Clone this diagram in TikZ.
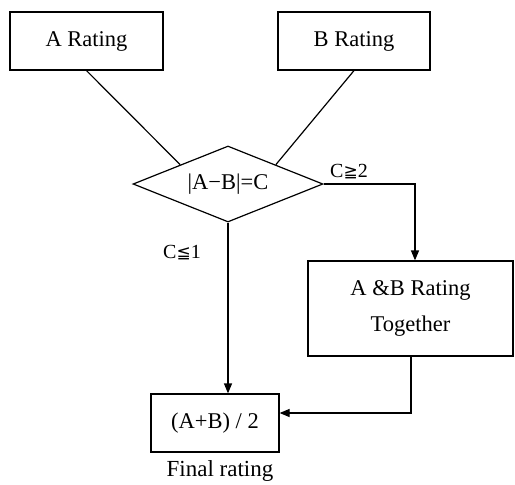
\documentclass[tikz,border=0pt]{standalone}
\usepackage{fontspec}
\setmainfont{Liberation Serif}
\newfontfamily\symfont{DejaVu Sans}
\usetikzlibrary{arrows.meta,shapes.geometric}
\tikzset{
  arr/.style={line width=1.2pt, -{Triangle[length=10pt,width=8pt]}},
  lin/.style={line width=1.2pt},
  box/.style={draw, line width=1.2pt, inner sep=0pt, align=center, font=\fontsize{22.5}{36}\selectfont},
  cond/.style={draw, diamond, aspect=2.5, line width=1.2pt, inner sep=0pt, minimum width=190pt, minimum height=76pt,
    font=\fontsize{22.5}{25}\selectfont},
  lbl/.style={inner sep=0pt, font=\fontsize{20}{24}\selectfont},
}
\newcommand{\geqq}{{\symfont\fontsize{17}{20}\selectfont ≧}}
\newcommand{\leqq}{{\symfont\fontsize{17}{20}\selectfont ≦}}

\begin{document}
\begin{tikzpicture}[x=1pt, y=-1pt]
\useasboundingbox (0,0) rectangle (515,485);

\node[box, minimum width=153pt, minimum height=58pt] (arate) at (86.5,41) {A Rating};
\node[box, minimum width=152pt, minimum height=58pt] (brate) at (354,41) {B Rating};
\node[cond] (diff) at (228,184) {|A−B|=C};
\node[box, minimum width=205pt, minimum height=95pt] (tog) at (410.5,308.5) {A \&B Rating\\Together};
\node[box, minimum width=128pt, minimum height=58pt] (fin) at (215,423) {(A+B) / 2};

\node[lbl] (big) at (349,172) {C\geqq2};
\node[lbl] (small) at (182,253) {C\leqq1};
\node[lbl, font=\fontsize{23}{26}\selectfont] (final) at (220,471) {Final rating};

\coordinate (turn) at (415,184);
\coordinate (back) at (411,413);

\draw[lin] (arate.south) -- (diff.north west);
\draw[lin] (brate.south) -- (diff.north east);
\draw[arr] (diff.east) -- (turn) -- (turn |- tog.north);
\draw[arr] (diff.south) -- (diff.south |- fin.north);
\draw[arr] (tog.south -| back) -- (back) -- (fin.east |- back);

\end{tikzpicture}
\end{document}
